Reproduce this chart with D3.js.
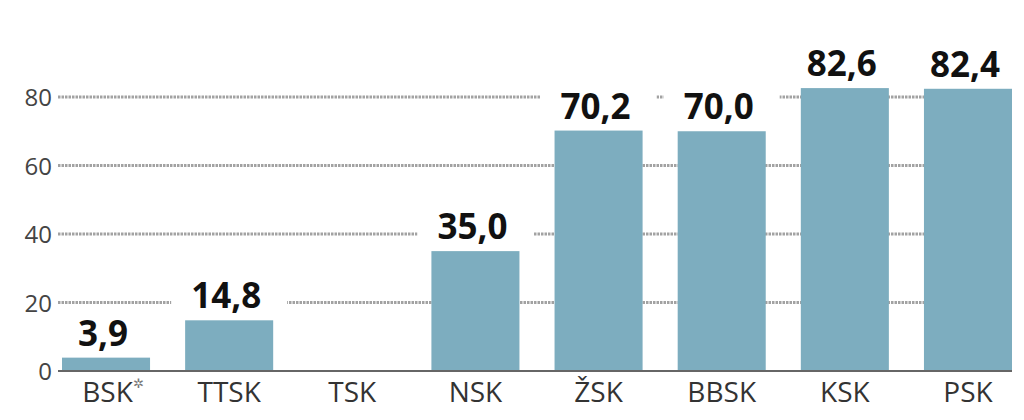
<!DOCTYPE html>
<html><head><meta charset="utf-8">
<script src="https://cdn.jsdelivr.net/npm/d3@7"></script>
<style>
html,body{margin:0;padding:0;background:#fff;}
svg{display:block;}
</style></head>
<body>
<svg id="chart" width="1024" height="420"></svg>
<script>
const categories = ["BSK", "TTSK", "TSK", "NSK", "ŽSK", "BBSK", "KSK", "PSK"];
const values = [3.9, 14.8, null, 35.0, 70.2, 70.0, 82.6, 82.4];
const valueLabels = ["3,9", "14,8", "", "35,0", "70,2", "70,0", "82,6", "82,4"];
const yTicks = [0, 20, 40, 60, 80];

const svg = d3.select("#chart");
const x = d3.scaleBand().domain(categories).range([62, 1012]).paddingInner(0.285).paddingOuter(0);
const y = d3.scaleLinear().domain([0, 80]).range([371, 97]);

// gridlines
const grid = svg.append("g");
grid.selectAll("line").data(yTicks.filter(d => d > 0)).join("line")
  .attr("x1", 58).attr("x2", 1012)
  .attr("y1", d => y(d)).attr("y2", d => y(d))
  .attr("stroke", "#a2a2a2").attr("stroke-width", 3)
  .attr("stroke-dasharray", "2.5,1");

// y tick labels via axis
const yAxis = svg.append("g").attr("transform", "translate(56,0)")
  .call(d3.axisLeft(y).tickValues(yTicks).tickSize(0).tickPadding(4));
yAxis.select(".domain").remove();
yAxis.selectAll("text")
  .attr("font-family", "'Open Sans', sans-serif").attr("font-size", 24)
  .attr("fill", "#444").attr("dy", "0.36em");

const data = categories.map((c, i) => ({c, v: values[i], l: valueLabels[i]}));

// white boxes behind labels
svg.append("g").selectAll("rect").data(data.filter(d => d.v != null)).join("rect")
  .attr("x", d => x(d.c) + x.bandwidth() / 2 - 58)
  .attr("width", 116)
  .attr("y", d => y(d.v) - 40)
  .attr("height", 30)
  .attr("fill", "#fff");

// bars
svg.append("g").selectAll("rect").data(data.filter(d => d.v != null)).join("rect")
  .attr("x", d => x(d.c)).attr("width", x.bandwidth())
  .attr("y", d => y(d.v)).attr("height", d => y(0) - y(d.v))
  .attr("fill", "#7dadbf");

// value labels
svg.append("g").selectAll("text").data(data.filter(d => d.v != null)).join("text")
  .attr("x", d => x(d.c) + x.bandwidth() / 2 - 3)
  .attr("y", d => y(d.v) - 12)
  .attr("text-anchor", "middle")
  .attr("font-family", "'Open Sans', sans-serif").attr("font-weight", 700)
  .attr("font-size", 35).attr("fill", "#111")
  .text(d => d.l);

// baseline
svg.append("line").attr("x1", 58).attr("x2", 1012)
  .attr("y1", y(0)).attr("y2", y(0))
  .attr("stroke", "#666").attr("stroke-width", 2);

// x axis labels
const xAxis = svg.append("g").attr("transform", `translate(0,${y(0)})`)
  .call(d3.axisBottom(x).tickSize(0).tickPadding(11));
xAxis.select(".domain").remove();
xAxis.selectAll("text")
  .attr("font-family", "'Open Sans', sans-serif").attr("font-size", 28)
  .attr("fill", "#333").attr("dy", "0.71em");
xAxis.selectAll(".tick").filter(d => d === "BSK").select("text")
  .attr("dx", "0.25em")
  .append("tspan").attr("font-size", 13).attr("dy", "-1.1em").attr("fill", "#777").text("✲");
</script>
</body></html>
